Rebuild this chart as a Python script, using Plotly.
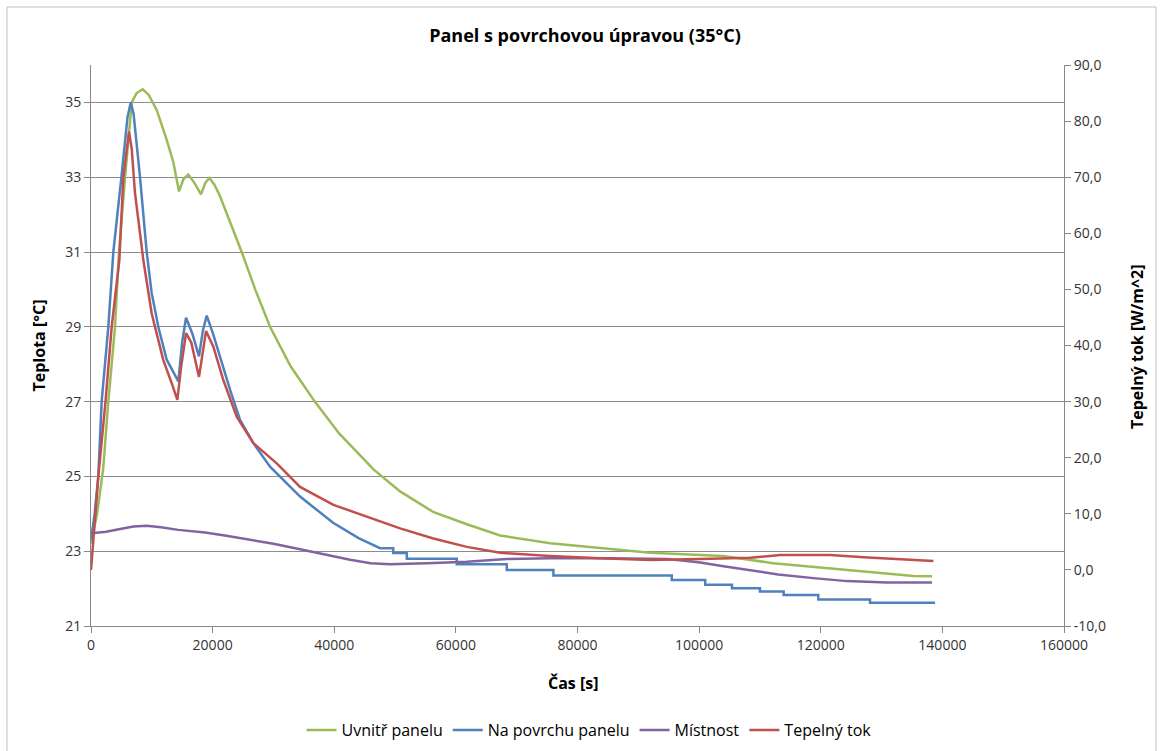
import plotly.graph_objects as go

# ---- data ----
green_t = [0, 1000, 2000, 2850, 3950, 4600, 5600, 6700, 7500, 8500, 9500, 10800, 12450, 13540, 14470,
           15200, 16000, 17000, 18090, 18800, 19460, 20300, 21220, 22900, 24780, 27000, 29440, 32800,
           36800, 40800, 46500, 50830, 56260, 61800, 67280, 75500, 83730, 91950, 100180, 103960,
           112180, 121550, 129780, 135270, 138300]
green_v = [23.2, 24.0, 25.2, 27.0, 29.0, 31.0, 33.0, 35.0, 35.25, 35.35, 35.2, 34.8, 34.0, 33.4, 32.62,
           32.95, 33.07, 32.85, 32.54, 32.85, 32.98, 32.8, 32.49, 31.8, 31.0, 30.0, 29.0, 27.95,
           27.0, 26.15, 25.18, 24.6, 24.05, 23.72, 23.42, 23.21, 23.08, 22.96, 22.9, 22.87,
           22.68, 22.54, 22.41, 22.34, 22.33]

blue_t = [0, 600, 1200, 1750, 2850, 3670, 5000, 6000, 6530, 7000, 8060, 9160, 9980, 11070, 12450,
          14360, 15000, 15630, 16700, 17760, 18400, 19030, 20100, 21220, 22860, 24510, 26700, 29440,
          31900, 34380, 39810, 44000, 47530, 49700, 49700, 51930, 51930, 60140, 60140, 68370, 68370,
          76040, 76040, 95500, 95500, 101000, 101000, 105400, 105400, 110000, 110000, 113900, 113900,
          119600, 119600, 128100, 128100, 138800]
blue_v = [23.3, 24.0, 25.0, 27.0, 29.0, 31.0, 33.0, 34.6, 35.0, 34.7, 33.0, 31.0, 29.9, 29.0, 28.12,
          27.54, 28.6, 29.24, 28.8, 28.21, 28.9, 29.3, 28.8, 28.2, 27.32, 26.51, 25.89, 25.26,
          24.85, 24.46, 23.76, 23.35, 23.08, 23.08, 22.95, 22.95, 22.8, 22.8, 22.65, 22.65, 22.5,
          22.5, 22.35, 22.35, 22.23, 22.23, 22.1, 22.1, 22.01, 22.01, 21.92, 21.92, 21.83,
          21.83, 21.71, 21.71, 21.62, 21.62]

purple_t = [0, 2500, 5000, 7000, 9160, 11500, 14360, 18750, 22000, 26000, 30000, 34380, 38500, 42600,
            46000, 49180, 55210, 61800, 68370, 75500, 85000, 94690, 97980, 100180, 104000, 108400,
            113000, 118810, 124300, 130880, 138300]
purple_v = [23.48, 23.52, 23.6, 23.66, 23.68, 23.64, 23.57, 23.5, 23.42, 23.32, 23.2, 23.05, 22.9, 22.77,
            22.68, 22.65, 22.68, 22.72, 22.79, 22.81, 22.81, 22.79, 22.74, 22.7, 22.6, 22.5,
            22.38, 22.28, 22.2, 22.16, 22.16]

red_t = [0, 600, 1200, 2410, 3400, 4660, 5320, 6250, 6700, 7240, 8610, 9980, 11890, 13200, 14200,
         14800, 15630, 16500, 17760, 18920, 20120, 21770, 23960, 26700, 30540, 34380, 39860, 45340,
         50830, 56300, 61800, 67270, 75500, 83730, 91950, 100180, 108400, 113330, 121550, 127030,
         132520, 138530]
red_v = [0.0, 8.0, 16.6, 30.3, 43.3, 55.2, 70.0, 78.1, 75.0, 67.1, 55.2, 45.7, 37.4, 33.5, 30.3,
         36.0, 42.2, 40.5, 34.4, 42.6, 39.8, 33.8, 27.3, 22.6, 19.0, 14.8, 11.6, 9.5,
         7.4, 5.6, 4.1, 3.06, 2.47, 2.06, 1.76, 1.94, 2.17, 2.65, 2.65, 2.24,
         1.89, 1.58]

x_ticks = [0, 20000, 40000, 60000, 80000, 100000, 120000, 140000, 160000]
left_ticks = [21, 23, 25, 27, 29, 31, 33, 35]
right_ticks = [-10, 0, 10, 20, 30, 40, 50, 60, 70, 80, 90]
right_labels = ["-10,0", "0,0", "10,0", "20,0", "30,0", "40,0", "50,0", "60,0", "70,0", "80,0", "90,0"]

names = ["Uvnitř panelu", "Na povrchu panelu", "Místnost", "Tepelný tok"]
colors = ["#9BBB59", "#4F81BD", "#8064A2", "#C0504D"]

FONT = "Open Sans"
W, H = 1167, 751
L, R, T, B = 91, 103, 65, 125
pw, ph = W - L - R, H - T - B


def px(xp):
    return (xp - L) / pw


def py(yp):
    return (H - B - yp) / ph


fig = go.Figure()
fig.add_trace(go.Scatter(x=green_t, y=green_v, name=names[0], mode="lines",
                         line=dict(color=colors[0], width=2.5)))
fig.add_trace(go.Scatter(x=blue_t, y=blue_v, name=names[1], mode="lines",
                         line=dict(color=colors[1], width=2.5)))
fig.add_trace(go.Scatter(x=purple_t, y=purple_v, name=names[2], mode="lines",
                         line=dict(color=colors[2], width=2.5)))
fig.add_trace(go.Scatter(x=red_t, y=red_v, name=names[3], mode="lines", yaxis="y2",
                         line=dict(color=colors[3], width=2.5)))

axis_col = "#888888"
tick_font = dict(family=FONT, size=14, color="#333333")
fig.update_layout(
    width=W, height=H, autosize=False,
    margin=dict(l=L, r=R, t=T, b=B, autoexpand=False),
    paper_bgcolor="white", plot_bgcolor="white",
    font=dict(family=FONT, size=14, color="#333333"),
    showlegend=True,
    title=dict(text="<b>Panel s povrchovou úpravou (35°C)</b>", x=585 / W, xanchor="center",
               y=1 - 36 / H, yanchor="middle", font=dict(family=FONT, size=18, color="#000000")),
    xaxis=dict(range=[0, 160000], tickvals=x_ticks, ticktext=[str(v) for v in x_ticks],
               showgrid=False, zeroline=False, showline=True, linecolor=axis_col, linewidth=1,
               automargin=False, ticks="outside", ticklen=6, tickcolor=axis_col, tickfont=tick_font),
    yaxis=dict(range=[21, 36], tickvals=left_ticks, ticktext=[str(v) for v in left_ticks],
               showgrid=True, gridcolor="#8c8c8c", gridwidth=1, zeroline=False,
               showline=True, linecolor=axis_col, linewidth=1, automargin=False,
               ticks="outside", ticklen=6, tickcolor=axis_col, tickfont=tick_font),
    yaxis2=dict(range=[-10, 90], tickvals=right_ticks, ticktext=right_labels, overlaying="y", side="right",
                showgrid=False, zeroline=False, showline=True, linecolor=axis_col, linewidth=1,
                automargin=False, ticks="outside", ticklen=6, tickcolor=axis_col, tickfont=tick_font),
    legend=dict(orientation="h", xref="container", yref="container", x=589 / W, xanchor="center",
                y=1 - 730 / H, yanchor="middle",
                font=dict(family=FONT, size=16, color="#000000"), bgcolor="rgba(0,0,0,0)"),
    annotations=[
        dict(text="<b>Teplota [°C]</b>", x=px(38), y=0.5, xref="paper", yref="paper", textangle=-90,
             showarrow=False, xanchor="center", yanchor="middle", font=dict(family=FONT, size=16, color="#000000")),
        dict(text="<b>Tepelný tok [W/m^2]</b>", x=px(1137), y=py(347), xref="paper", yref="paper", textangle=-90,
             showarrow=False, xanchor="center", yanchor="middle", font=dict(family=FONT, size=16, color="#000000")),
        dict(text="<b>Čas [s]</b>", x=px(573), y=py(683), xref="paper", yref="paper",
             showarrow=False, xanchor="center", yanchor="middle", font=dict(family=FONT, size=16, color="#000000")),
    ],
    shapes=[dict(type="rect", xref="paper", yref="paper", x0=px(7), x1=px(1156), y0=py(760), y1=py(7),
                 line=dict(color="#BFBFBF", width=1), fillcolor="rgba(0,0,0,0)", layer="below")],
)

fig.write_html("out.html")
